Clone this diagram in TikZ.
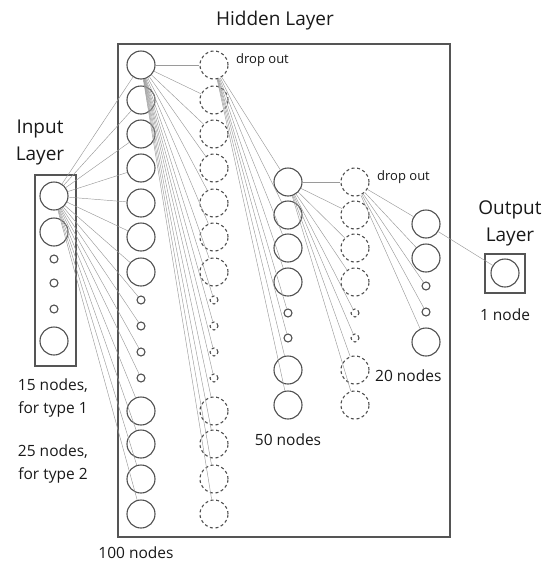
\documentclass[tikz,border=0pt]{standalone}
\usepackage{fontspec}
\setmainfont{Open Sans}
\definecolor{nodegray}{HTML}{505050}
\definecolor{linkgray}{HTML}{9A9A9A}
\definecolor{boxgray}{HTML}{555555}
\begin{document}
\begin{tikzpicture}[x=1pt,y=-1pt,
  neuron/.style={circle,draw=nodegray,line width=1.1pt,inner sep=0pt,fill=white},
  dropnode/.style={neuron,dashed,dash pattern=on 3pt off 2.6pt},
  layerbox/.style={draw=boxgray,line width=1.1pt},
  link/.style={draw=linkgray,line width=0.45pt},
  title/.style={font=\fontsize{19}{27}\selectfont,align=center,text=black!90,inner sep=0pt},
  caption/.style={font=\fontsize{15.5}{23}\selectfont,align=center,text=black!90,inner sep=0pt},
  droplabel/.style={font=\fontsize{13}{15}\selectfont,text=black!90,inner sep=0pt,anchor=west}
]
\useasboundingbox (0,0) rectangle (548,563);

% layer frames
\draw[layerbox] (35,175) rectangle (76,366);
\draw[layerbox] (118,44) rectangle (450,537);
\draw[layerbox] (485,254) rectangle (525,293);

% input layer
\foreach \y/\r [count=\i] in {196/28,232/28,259/8,283/8,309/8,341/28}
  \node[neuron,minimum size=\r pt] (in-\i) at (54,\y) {};

% hidden layer 1 and its dropout column
\foreach \y/\r [count=\i] in {65/28,100/28,134/28,168/28,203/28,237/28,272/28,300/8,326/8,352/8,378/8,411/28,444/28,479/28,514/28}
{
  \node[neuron,minimum size=\r pt] (h1-\i) at (141,\y) {};
  \node[dropnode,minimum size=\r pt] (d1-\i) at (214,\y) {};
}

% hidden layer 2 and its dropout column
\foreach \y/\r [count=\i] in {182/28,215/28,248/28,282/28,313/8,338/8,370/28,405/28}
{
  \node[neuron,minimum size=\r pt] (h2-\i) at (288,\y) {};
  \node[dropnode,minimum size=\r pt] (d2-\i) at (355,\y) {};
}

% hidden layer 3
\foreach \y/\r [count=\i] in {224/28,258/28,286/8,312/8,342/28}
  \node[neuron,minimum size=\r pt] (h3-\i) at (426,\y) {};

% output layer
\node[neuron,minimum size=28pt] (out) at (505,273) {};

% connections: the first unit of each column feeds every unit of the next
\foreach \i in {1,...,15} \draw[link] (in-1) -- (h1-\i);
\foreach \i in {1,...,15} \draw[link] (h1-1) -- (d1-\i);
\foreach \i in {1,...,8} \draw[link] (d1-1) -- (h2-\i);
\foreach \i in {1,...,8} \draw[link] (h2-1) -- (d2-\i);
\foreach \i in {1,...,5} \draw[link] (d2-1) -- (h3-\i);
\draw[link] (h3-1) -- (out);

% labels
\node[title] (hiddentitle) at (275,21) {Hidden Layer};
\node[title] (inputtitle) at (40,142) {Input\\Layer};
\node[title] (outputtitle) at (510,223) {Output\\Layer};
\node[caption] (outcount) at (505,315) {1 node};
\node[caption,anchor=west] (d2count) at (375,376) {20 nodes};
\node[caption] (h2count) at (288,440) {50 nodes};
\node[caption] (h1count) at (136,553) {100 nodes};
\node[caption] (type1) at (53,398) {15 nodes,\\for type 1};
\node[caption] (type2) at (53,464) {25 nodes,\\for type 2};
\node[droplabel] (drop1) at (236,60) {drop out};
\node[droplabel] (drop2) at (377,177) {drop out};
\end{tikzpicture}
\end{document}
